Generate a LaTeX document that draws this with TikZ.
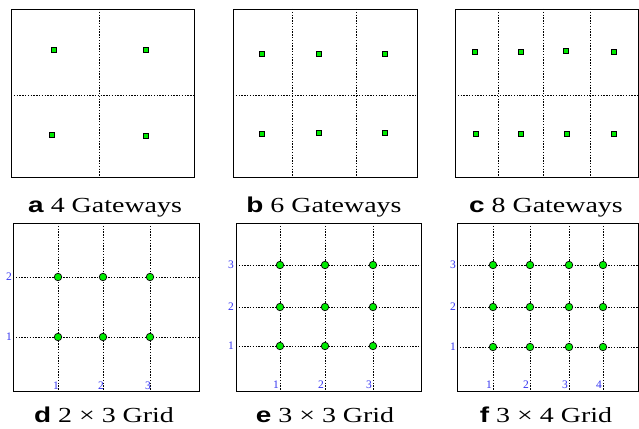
\documentclass[tikz,border=0pt]{standalone}
\usepackage{fontspec}
\setmainfont{Liberation Serif}
\setsansfont{Liberation Sans}
\usetikzlibrary{positioning}
\definecolor{vert}{RGB}{0,235,0}
\definecolor{bleuet}{RGB}{50,50,240}
\tikzset{
  gw/.style={draw=black, fill=vert, line width=0.7pt, minimum size=4.6pt, inner sep=0pt},
  gp/.style={circle, draw=black, fill=vert, line width=0.7pt, minimum size=7.5pt, inner sep=0pt},
  cut/.style={dash pattern=on 1.4pt off 1.4pt, line width=0.6pt},
  frame/.style={line width=0.8pt},
  num/.style={text=bleuet, font=\fontsize{11.5}{11.5}\selectfont, inner sep=0pt},
  legend/.style={font=\fontsize{21.5}{21.5}\selectfont, inner sep=0pt, anchor=base}
}
\newcommand{\lettre}[1]{\textsf{\bfseries #1}}
\newcommand{\legende}[1]{\scalebox{1.3}[1]{#1}}

\begin{document}
\begin{tikzpicture}[x=1pt, y=-1pt]
  \useasboundingbox (0,0) rectangle (639,428);
  % a : 4 gateways
  \draw[frame] (11,9) rectangle (194,177);
  \draw[cut] (99,9) -- (99,177);
  \draw[cut] (11,95) -- (194,95);
  \node[gw] (a1) at (54,50) {};
  \node[gw] (a2) at (146,50) {};
  \node[gw] (a3) at (52,135) {};
  \node[gw] (a4) at (146,136) {};
  \node[legend] (capa) at (105,212) {\legende{\lettre{a} 4 Gateways}};
  % b : 6 gateways
  \draw[frame] (233,9) rectangle (417,177);
  \foreach \x in {292,356} \draw[cut] (\x,9) -- (\x,177);
  \draw[cut] (233,95) -- (417,95);
  \node[gw] (b1) at (262,54) {};
  \node[gw] (b2) at (319,54) {};
  \node[gw] (b3) at (385,54) {};
  \node[gw] (b4) at (262,134) {};
  \node[gw] (b5) at (319,133) {};
  \node[gw] (b6) at (385,133) {};
  \node[legend] (capb) at (324,212) {\legende{\lettre{b} 6 Gateways}};
  % c : 8 gateways
  \draw[frame] (455,9) rectangle (638.5,177);
  \foreach \x in {498,543,590} \draw[cut] (\x,9) -- (\x,177);
  \draw[cut] (455,95) -- (638.5,95);
  \node[gw] (c1) at (475,52) {};
  \node[gw] (c2) at (521,52) {};
  \node[gw] (c3) at (566,51) {};
  \node[gw] (c4) at (614,52) {};
  \node[gw] (c5) at (476,134) {};
  \node[gw] (c6) at (521,134) {};
  \node[gw] (c7) at (567,134) {};
  \node[gw] (c8) at (614,134) {};
  \node[legend] (capc) at (546,212) {\legende{\lettre{c} 8 Gateways}};
  % d : grille 2 x 3
  \draw[frame] (13,223) rectangle (199,391);
  \foreach \x/\i in {58/1,103/2,150/3} {
    \draw[cut] (\x,223) -- (\x,391);
    \node[num] (dx\i) at (\x-2,386) {\i};
  }
  \foreach \y/\j in {337/1,277/2} {
    \draw[cut] (13,\y) -- (199,\y);
    \node[num] (dy\j) at (9,\y) {\j};
  }
  \foreach \x/\i in {58/1,103/2,150/3}
    \foreach \y/\j in {337/1,277/2}
      \node[gp] (d\i\j) at (\x,\y) {};
  \node[legend] (capd) at (104,422) {\legende{\lettre{d} 2 × 3 Grid}};
  % e : grille 3 x 3
  \draw[frame] (236,223) rectangle (421,391);
  \foreach \x/\i in {280/1,325/2,373/3} {
    \draw[cut] (\x,223) -- (\x,391);
    \node[num] (ex\i) at (\x-4,385) {\i};
  }
  \foreach \y/\j in {346/1,307/2,265/3} {
    \draw[cut] (236,\y) -- (421,\y);
    \node[num] (ey\j) at (231,\y) {\j};
  }
  \foreach \x/\i in {280/1,325/2,373/3}
    \foreach \y/\j in {346/1,307/2,265/3}
      \node[gp] (e\i\j) at (\x,\y) {};
  \node[legend] (cape) at (325,422) {\legende{\lettre{e} 3 × 3 Grid}};
  % f : grille 3 x 4
  \draw[frame] (457,223) rectangle (638.5,391);
  \foreach \x/\i in {493/1,530/2,569/3,603/4} {
    \draw[cut] (\x,223) -- (\x,391);
    \node[num] (fx\i) at (\x-4,385) {\i};
  }
  \foreach \y/\j in {347/1,307/2,265/3} {
    \draw[cut] (457,\y) -- (638.5,\y);
    \node[num] (fy\j) at (453,\y) {\j};
  }
  \foreach \x/\i in {493/1,530/2,569/3,603/4}
    \foreach \y/\j in {347/1,307/2,265/3}
      \node[gp] (f\i\j) at (\x,\y) {};
  \node[legend] (capf) at (546,422) {\legende{\lettre{f} 3 × 4 Grid}};
\end{tikzpicture}
\end{document}
